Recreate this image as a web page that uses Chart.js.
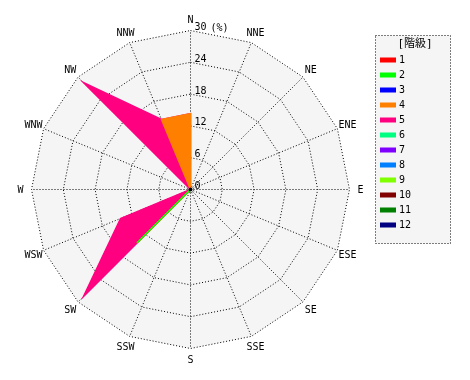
<!DOCTYPE html>
<html>
<head>
<meta charset="utf-8">
<script src="https://cdn.jsdelivr.net/npm/chart.js@4.4.0/dist/chart.umd.min.js"></script>
<style>
html,body{margin:0;padding:0;background:#fff;}
#wrap{width:470px;height:380px;position:relative;}
</style>
</head>
<body>
<div id="wrap"><canvas id="c" width="470" height="380"></canvas></div>
<script>
// ---- data ----
const directions = ['N','NNE','NE','ENE','E','ESE','SE','SSE','S','SSW','SW','WSW','W','WNW','NW','NNW'];
const tickValues = [0, 6, 12, 18, 24, 30];
const unitLabel = '(%)';
const legendTitle = '[階級]';
const classNames = ['1','2','3','4','5','6','7','8','9','10','11','12'];
const classColors = ['#ff0000','#00ff00','#0000ff','#ff8000','#ff0080','#00ff80','#8000ff','#0080ff','#80ff00','#800000','#008000','#000080'];

//                N  NNE NE ENE E ESE SE SSE S SSW SW     WSW    W WNW NW     NNW
const class1  = [0,    0, 0, 0, 0, 0, 0, 0, 0, 0, 0,     0,     0, 0, 0,     0];
const class2  = [0,    0, 0, 0, 0, 0, 0, 0, 0, 0, 14.29, 0,     0, 0, 0,     0];
const class3  = [0,    0, 0, 0, 0, 0, 0, 0, 0, 0, 0,     0,     0, 0, 0,     0];
const class4  = [14.29,0, 0, 0, 0, 0, 0, 0, 0, 0, 0,     0,     0, 0, 0,     14.29];
const class5  = [0,    0, 0, 0, 0, 0, 0, 0, 0, 0, 14.29, 14.29, 0, 0, 28.57, 0];
const class6  = [0,    0, 0, 0, 0, 0, 0, 0, 0, 0, 0,     0,     0, 0, 0,     0];
const class7  = [0,    0, 0, 0, 0, 0, 0, 0, 0, 0, 0,     0,     0, 0, 0,     0];
const class8  = [0,    0, 0, 0, 0, 0, 0, 0, 0, 0, 0,     0,     0, 0, 0,     0];
const class9  = [0,    0, 0, 0, 0, 0, 0, 0, 0, 0, 0,     0,     0, 0, 0,     0];
const class10 = [0,    0, 0, 0, 0, 0, 0, 0, 0, 0, 0,     0,     0, 0, 0,     0];
const class11 = [0,    0, 0, 0, 0, 0, 0, 0, 0, 0, 0,     0,     0, 0, 0,     0];
const class12 = [0,    0, 0, 0, 0, 0, 0, 0, 0, 0, 0,     0,     0, 0, 0,     0];
const classValues = [class1,class2,class3,class4,class5,class6,class7,class8,class9,class10,class11,class12];

// cumulative (stacked) layers; lower classes drawn on top
const running = directions.map(() => 0);
const datasets = classValues.map((vals, k) => {
  vals.forEach((v, i) => { running[i] += v; });
  return {
    label: classNames[k],
    data: running.slice(),
    backgroundColor: classColors[k],
    borderColor: classColors[k],
    borderWidth: 1.5,
    pointRadius: 0,
    pointHoverRadius: 0,
    fill: 'origin',
    hidden: vals.every(v => v === 0)
  };
});

const FONT = '10px "DejaVu Sans Mono", monospace';

const textPlugin = {
  id: 'roseText',
  afterDraw(chart) {
    const ctx = chart.ctx;
    const s = chart.scales.r;
    ctx.save();
    ctx.fillStyle = '#000';
    ctx.font = FONT;
    ctx.textAlign = 'center';
    ctx.textBaseline = 'middle';
    directions.forEach((d, i) => {
      const p = s.getPointPosition(i, s.drawingArea + 11);
      ctx.fillText(d, p.x, p.y + 1);
    });
    ctx.textAlign = 'left';
    tickValues.forEach(v => {
      const y = s.yCenter - s.getDistanceFromCenterForValue(v);
      ctx.fillText(String(v), s.xCenter + 4, y - 3);
    });
    ctx.fillText(unitLabel, s.xCenter + 20, s.yCenter - s.getDistanceFromCenterForValue(tickValues[tickValues.length-1]) - 2);
    // center dot
    ctx.beginPath();
    ctx.arc(s.xCenter, s.yCenter, 2, 0, Math.PI * 2);
    ctx.fill();

    // legend box
    const lx = 375.5, ly = 35.5, lw = 75, lh = 208;
    ctx.fillStyle = '#f5f5f5';
    ctx.fillRect(lx, ly, lw, lh);
    ctx.strokeStyle = '#000';
    ctx.lineWidth = 1;
    ctx.setLineDash([1, 2]);
    ctx.strokeRect(lx, ly, lw, lh);
    ctx.setLineDash([]);
    ctx.fillStyle = '#000';
    ctx.textAlign = 'center';
    ctx.font = '11px "DejaVu Sans Mono", "Noto Sans CJK JP", monospace';
    ctx.fillText(legendTitle, 415, 44);
    ctx.font = FONT;
    ctx.textAlign = 'left';
    classNames.forEach((n, i) => {
      const y = 60 + 15 * i;
      ctx.fillStyle = classColors[i];
      ctx.fillRect(380, y - 2.5, 16, 5);
      ctx.fillStyle = '#000';
      ctx.fillText(n, 399, y + 0.5);
    });
    ctx.restore();
  }
};

new Chart(document.getElementById('c'), {
  type: 'radar',
  data: { labels: directions, datasets: datasets },
  options: {
    responsive: false,
    animation: false,
    events: [],
    layout: { padding: { left: 31, right: 120, top: 30, bottom: 31 } },
    elements: { line: { tension: 0 } },
    plugins: { legend: { display: false }, tooltip: { enabled: false } },
    scales: {
      r: {
        min: 0, max: 30,
        backgroundColor: '#f5f5f5',
        ticks: { display: false, stepSize: 6 },
        pointLabels: { display: false },
        grid: { color: '#000', lineWidth: 1, circular: false, borderDash: [1, 2] },
        border: { dash: [1, 2] },
        angleLines: { color: '#000', lineWidth: 1, borderDash: [1, 2] },
        afterFit(scale) { scale.xCenter += 0.5; scale.yCenter += 0.5; }
      }
    }
  },
  plugins: [textPlugin]
});
</script>
</body>
</html>
